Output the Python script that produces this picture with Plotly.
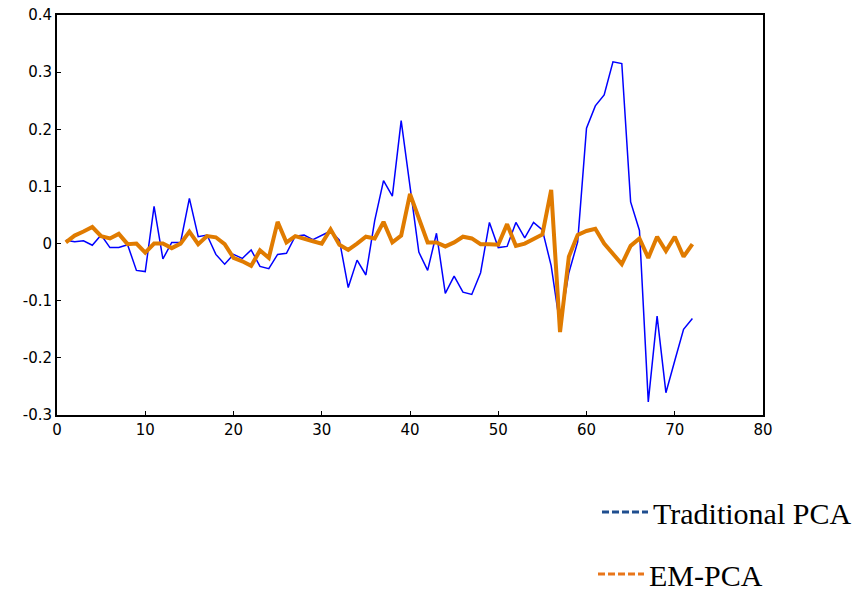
import plotly.graph_objects as go

x_vals = list(range(1, 73))
traditional_pca = [
    0.006, 0.003, 0.005, -0.003, 0.015, -0.007, -0.007, -0.002, -0.047, -0.049,
    0.065, -0.027, 0.002, 0.002, 0.079, 0.012, 0.015, -0.019, -0.036, -0.019,
    -0.026, -0.011, -0.040, -0.044, -0.019, -0.017, 0.013, 0.015, 0.007, 0.014,
    0.022, 0.006, -0.077, -0.029, -0.055, 0.040, 0.110, 0.083, 0.215, 0.100,
    -0.015, -0.047, 0.018, -0.087, -0.057, -0.085, -0.089, -0.051, 0.037, -0.007,
    -0.005, 0.037, 0.010, 0.037, 0.024, -0.039, -0.144, -0.051, 0.003, 0.202,
    0.241, 0.260, 0.318, 0.315, 0.073, 0.023, -0.277, -0.127, -0.261, -0.205,
    -0.150, -0.131,
]
em_pca = [
    0.002, 0.014, 0.021, 0.029, 0.013, 0.009, 0.017, -0.001, 0.000, -0.016,
    0.000, 0.000, -0.008, 0.000, 0.021, -0.001, 0.013, 0.011, -0.001, -0.025,
    -0.031, -0.039, -0.012, -0.025, 0.038, 0.002, 0.013, 0.008, 0.004, 0.000,
    0.025, -0.002, -0.011, 0.000, 0.012, 0.009, 0.038, 0.002, 0.014, 0.087,
    0.045, 0.002, 0.002, -0.005, 0.002, 0.012, 0.009, -0.001, -0.001, -0.002,
    0.034, -0.004, 0.000, 0.009, 0.016, 0.094, -0.155, -0.023, 0.015, 0.022,
    0.026, 0.000, -0.019, -0.036, -0.004, 0.009, -0.025, 0.012, -0.013, 0.012,
    -0.023, -0.001,
]
x_ticks = [0, 10, 20, 30, 40, 50, 60, 70, 80]
y_ticks = [-0.3, -0.2, -0.1, 0, 0.1, 0.2, 0.3, 0.4]
y_tick_labels = ["-0.3", "-0.2", "-0.1", "0", "0.1", "0.2", "0.3", "0.4"]
series_names = ["Traditional PCA", "EM-PCA"]

fig = go.Figure()
fig.add_trace(go.Scatter(x=x_vals, y=traditional_pca, mode="lines",
                         line=dict(color="#0000FF", width=1.5), showlegend=False))
fig.add_trace(go.Scatter(x=x_vals, y=em_pca, mode="lines",
                         line=dict(color="#E07B00", width=4), showlegend=False))
# legend entries (dashed samples, as in the reference)
fig.add_trace(go.Scatter(x=[None], y=[None], mode="lines", name=series_names[0],
                         line=dict(color="#1F4E8F", width=3, dash="7px,3px"),
                         legend="legend"))
fig.add_trace(go.Scatter(x=[None], y=[None], mode="lines", name=series_names[1],
                         line=dict(color="#E8761B", width=3, dash="7px,3px"),
                         legend="legend2"))

axis_common = dict(showgrid=False, zeroline=False, showline=True, linecolor="black",
                   linewidth=2, mirror=True, ticks="inside", ticklen=4,
                   tickcolor="black", tickwidth=1,
                   tickfont=dict(family="DejaVu Sans", size=15, color="black"))

legend_font = dict(family="Liberation Serif, Times New Roman", size=30, color="black")
fig.update_layout(
    width=867, height=592,
    margin=dict(l=57, r=104, t=15, b=177, autoexpand=False),
    paper_bgcolor="white", plot_bgcolor="white",
    xaxis=dict(range=[0, 80], tickvals=x_ticks, **axis_common),
    yaxis=dict(range=[-0.3, 0.4], tickvals=y_ticks, ticktext=y_tick_labels, **axis_common),
    legend=dict(x=597 / 867, y=1 - 512 / 592, xref="container", yref="container",
                xanchor="left", yanchor="middle",
                font=legend_font, bgcolor="rgba(0,0,0,0)", itemwidth=46),
    legend2=dict(x=593 / 867, y=1 - 574 / 592, xref="container", yref="container",
                 xanchor="left", yanchor="middle",
                 font=legend_font, bgcolor="rgba(0,0,0,0)", itemwidth=46),
)

fig.write_html("out.html")
